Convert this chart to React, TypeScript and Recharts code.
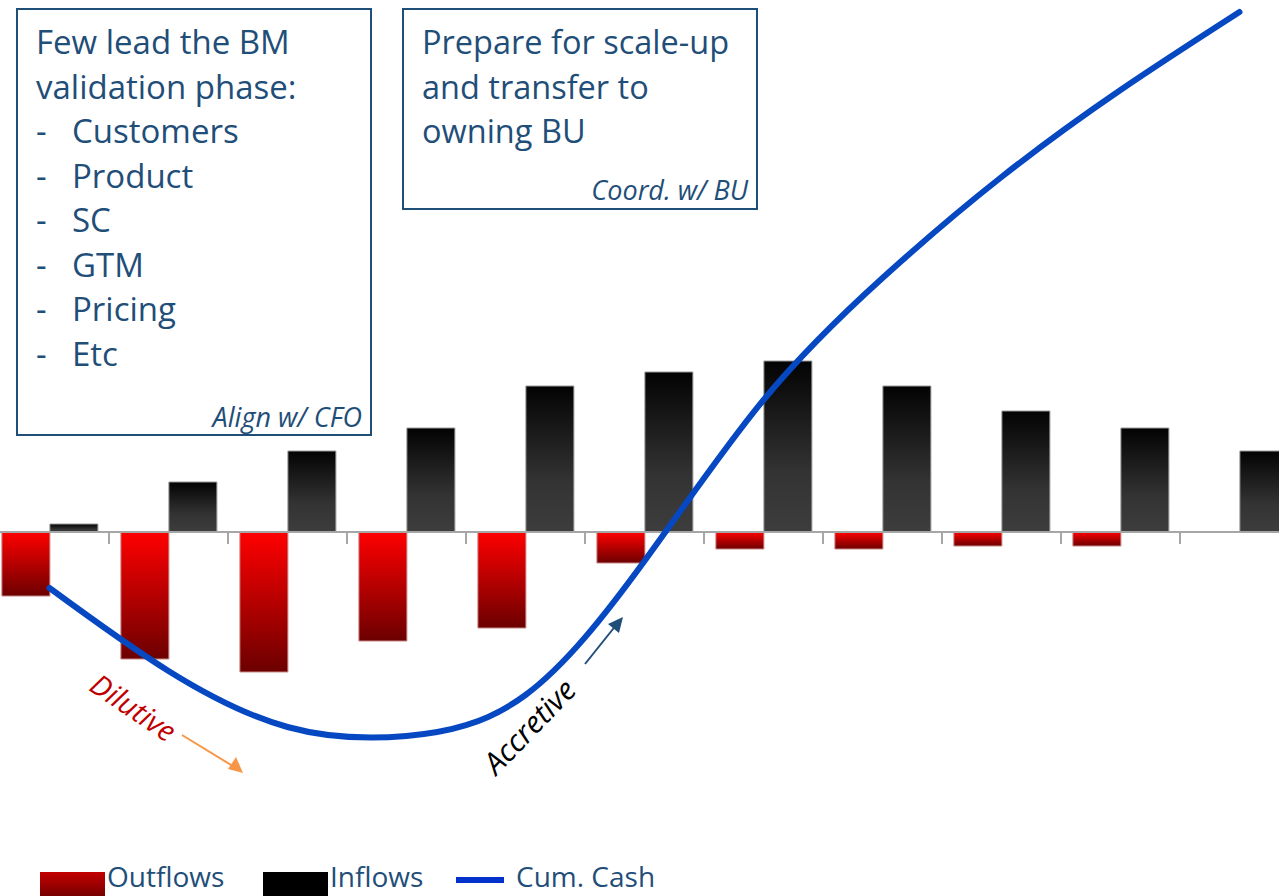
import React from "react";
import { ComposedChart, Bar, Line, XAxis, YAxis, ReferenceLine } from "recharts";

// one period per category, cash in arbitrary units (axis zero at the gray line)
const periods = ["P1", "P2", "P3", "P4", "P5", "P6", "P7", "P8", "P9", "P10", "P11"];
const outflows = [-6.4, -12.7, -14.0, -10.9, -9.6, -3.1, -1.7, -1.7, -1.4, -1.4, 0];
const inflows = [0.8, 5.0, 8.1, 10.4, 14.6, 16.0, 17.1, 14.6, 12.1, 10.4, 8.1];
const cumCash = [-5.6, -13.9, -19.5, -20.4, -16.3, -2.9, 13.2, 25.4, 35.5, 44.2, 52.0];

// tick marks sit between categories
const tickEdges = [0.5, 1.5, 2.5, 3.5, 4.5, 5.5, 6.5, 7.5, 8.5, 9.5];

const data = periods.map((p, i) => ({
  period: p,
  idx: i,
  outflow: outflows[i],
  inflow: inflows[i],
  cum: cumCash[i],
}));

const FONT = "'Open Sans', 'Noto Sans', sans-serif";
const NAVY = "#1F4E79";

const boxStyle: React.CSSProperties = {
  position: "absolute",
  border: `2px solid ${NAVY}`,
  background: "#fff",
  boxSizing: "border-box",
  color: NAVY,
  fontFamily: FONT,
};

const bullets = ["Customers", "Product", "SC", "GTM", "Pricing", "Etc"];

const legendText: React.CSSProperties = {
  position: "absolute",
  top: 862,
  fontSize: 28,
  lineHeight: "28px",
  whiteSpace: "nowrap",
  color: NAVY,
};

export default function App() {
  return (
    <div
      style={{
        position: "fixed",
        top: 0,
        left: 0,
        width: 1279,
        height: 896,
        overflow: "hidden",
        background: "#fff",
        fontFamily: FONT,
      }}
    >
      <ComposedChart
        width={1279}
        height={896}
        data={data}
        margin={{ top: -68, right: -20, bottom: -36, left: -10 }}
        barCategoryGap="10%"
        barGap={0}
      >
        <defs>
          <linearGradient id="outGrad" x1="0" y1="0" x2="0" y2="1">
            <stop offset="0%" stopColor="#ff0000" />
            <stop offset="100%" stopColor="#6c0000" />
          </linearGradient>
          <linearGradient id="inGrad" x1="0" y1="0" x2="0" y2="1">
            <stop offset="0%" stopColor="#030303" />
            <stop offset="65%" stopColor="#333333" />
            <stop offset="100%" stopColor="#3d3d3d" />
          </linearGradient>
        </defs>
        <XAxis xAxisId="cat" dataKey="period" hide />
        <XAxis
          xAxisId="num"
          dataKey="idx"
          type="number"
          domain={[-0.5, 10.5]}
          allowDataOverflow
          hide
        />
        <YAxis domain={[-40, 60]} allowDataOverflow hide />
        <Bar
          xAxisId="cat"
          dataKey="outflow"
          fill="url(#outGrad)"
          stroke="#c98686"
          strokeWidth={1}
          isAnimationActive={false}
        />
        <Bar
          xAxisId="cat"
          dataKey="inflow"
          fill="url(#inGrad)"
          stroke="#9a9a9a"
          strokeWidth={1}
          isAnimationActive={false}
        />
        <ReferenceLine xAxisId="num" y={0} stroke="#a6a6a6" strokeWidth={2} />
        {tickEdges.map((t) => (
          <ReferenceLine
            key={t}
            xAxisId="num"
            segment={[
              { x: t, y: 0 },
              { x: t, y: -1.2 },
            ]}
            stroke="#a6a6a6"
            strokeWidth={2}
          />
        ))}
        <Line
          xAxisId="cat"
          dataKey="cum"
          type="natural"
          stroke="#0648c2"
          strokeWidth={6}
          strokeLinecap="round"
          dot={false}
          activeDot={false}
          isAnimationActive={false}
        />
      </ComposedChart>

      {/* left note */}
      <div style={{ ...boxStyle, left: 16, top: 8, width: 356, height: 428 }}>
        <div style={{ position: "absolute", left: 18, top: 10, fontSize: 33, lineHeight: "44.5px" }}>
          <div>Few lead the BM</div>
          <div>validation phase:</div>
          {bullets.map((b) => (
            <div key={b} style={{ display: "flex" }}>
              <span style={{ width: 36 }}>-</span>
              <span>{b}</span>
            </div>
          ))}
        </div>
        <div
          style={{
            position: "absolute",
            right: 8,
            bottom: 0,
            fontSize: 27,
            lineHeight: "34px",
            fontStyle: "italic",
          }}
        >
          Align w/ CFO
        </div>
      </div>

      {/* right note */}
      <div style={{ ...boxStyle, left: 402, top: 8, width: 356, height: 202 }}>
        <div style={{ position: "absolute", left: 18, top: 10, fontSize: 32.5, lineHeight: "44.5px" }}>
          <div>Prepare for scale-up</div>
          <div>and transfer to</div>
          <div>owning BU</div>
        </div>
        <div
          style={{
            position: "absolute",
            right: 8,
            bottom: 1,
            fontSize: 27,
            lineHeight: "34px",
            fontStyle: "italic",
          }}
        >
          Coord. w/ BU
        </div>
      </div>

      {/* annotations */}
      <svg
        width={1279}
        height={896}
        style={{ position: "absolute", left: 0, top: 0, pointerEvents: "none" }}
      >
        <text
          x={133}
          y={718}
          transform="rotate(34 133 708)"
          textAnchor="middle"
          fontFamily={FONT}
          fontStyle="italic"
          fontSize={29}
          fill="#C00000"
        >
          Dilutive
        </text>
        <line x1={182} y1={735} x2={236} y2={768} stroke="#F79646" strokeWidth={2} />
        <path d="M243,773 L228,769 L236,757 z" fill="#F79646" />
        <text
          x={530}
          y={737}
          transform="rotate(-46 530 727)"
          textAnchor="middle"
          fontFamily={FONT}
          fontStyle="italic"
          fontSize={30}
          fill="#000"
        >
          Accretive
        </text>
        <line x1={585} y1={664} x2={617} y2={624} stroke={NAVY} strokeWidth={2} />
        <path d="M623,617 L619,633 L608,624 z" fill={NAVY} />
      </svg>

      {/* legend */}
      <div
        style={{
          position: "absolute",
          left: 40,
          top: 872,
          width: 65,
          height: 24,
          background: "linear-gradient(#c40000, #780000)",
        }}
      />
      <div style={{ ...legendText, left: 107 }}>Outflows</div>
      <div style={{ position: "absolute", left: 263, top: 872, width: 65, height: 24, background: "#000" }} />
      <div style={{ ...legendText, left: 330 }}>Inflows</div>
      <div
        style={{ position: "absolute", left: 456, top: 877, width: 48, height: 6, background: "#0033cc" }}
      />
      <div style={{ ...legendText, left: 516 }}>Cum. Cash</div>
    </div>
  );
}
